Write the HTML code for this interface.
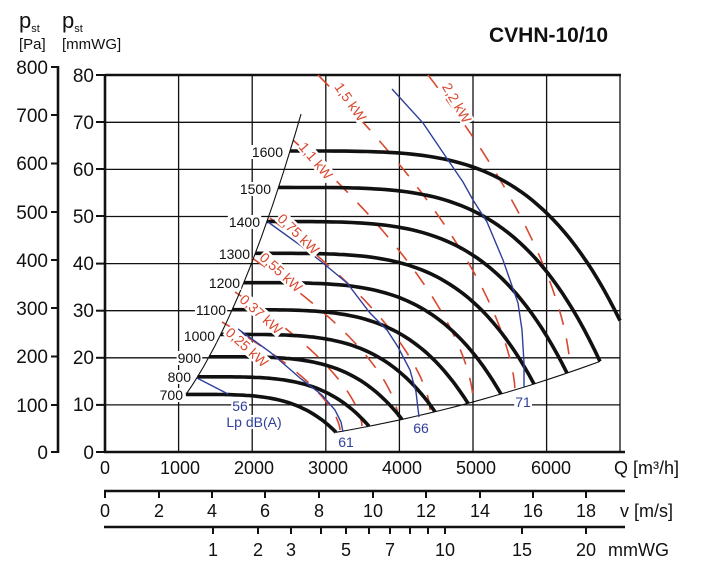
<!DOCTYPE html>
<html><head><meta charset="utf-8"><style>
html,body{margin:0;padding:0;background:#fff;}
svg{display:block;font-family:"Liberation Sans",sans-serif;}
</style></head><body>
<svg id="s" width="708" height="573" viewBox="0 0 708 573" xmlns="http://www.w3.org/2000/svg">
<g id="grid" stroke="#111" stroke-width="1.3" fill="none"></g>
<g id="pw" stroke="#d8482e" stroke-width="1.6" fill="none" stroke-dasharray="16,14"></g>
<g id="cv" stroke="#111" stroke-width="3.6" fill="none" stroke-linecap="butt"></g>
<g id="bl" stroke="#2f3f9a" stroke-width="1.4" fill="none"></g>
<g id="ax"></g>
<g id="lb"></g>
</svg>
<script>
var NS="http://www.w3.org/2000/svg";
function el(p,t,a,txt){var e=document.createElementNS(NS,t);for(var k in a)e.setAttribute(k,a[k]);if(txt!==undefined)e.textContent=txt;document.getElementById(p).appendChild(e);return e;}
function pl(p,pts,a){a=a||{};a.d="M"+pts.map(function(q){return q[0].toFixed(1)+","+q[1].toFixed(1)}).join(" L");return el(p,"path",a);}
for(var i=1;i<7;i++){var x=105+73.6*i;el("grid","line",{x1:x,y1:75,x2:x,y2:452});}
el("grid","line",{x1:620,y1:75,x2:620,y2:452});
for(var j=1;j<8;j++){var y=452-47.1*j;el("grid","line",{x1:105,y1:y,x2:620,y2:y});}
el("grid","line",{x1:105,y1:75,x2:621,y2:75,"stroke-width":2.6});
function pwl(x0,y0,x1,y1){var pts=[];for(var k=0;k<=40;k++){var t=k/40;var tx=1-Math.pow(1-t,1.6);pts.push([x0+(x1-x0)*tx,y0+(y1-y0)*t]);}pl("pw",pts);}
pwl(222,322,340,430);pwl(235,292,362,426);pwl(252,258,398,417);pwl(270,218,430,410);
pwl(293,140,473,399);pwl(318,75,515,391);pwl(428,75,570,368);
var c=1.43e-8;
[700,800,900,1000,1100,1200,1300,1400,1500,1600].forEach(function(n){
 var s=n/1600,pts=[];var xe=(n==1600)?515:528;
 for(var k=0;k<=60;k++){var Xp=185+(xe-185)*k/60;var d=Xp-185;var Y=s*s*(301-c*Math.pow(d,4));pts.push([105+Xp*s,452-Y]);}
 pl("cv",pts);
});
var bp=[];for(var k=0;k<=20;k++){var s=0.4375+(0.9375-0.4375)*k/20;var Y=s*s*(301-c*Math.pow(343,4));bp.push([105+528*s,452-Y]);}
pl("cv",bp,{"stroke-width":1.1});
var lp=[];for(var k=0;k<=20;k++){var X=81+(196-81)*k/20;lp.push([105+X,452-301*Math.pow(X/185,2)]);}
pl("cv",lp,{"stroke-width":1.1});
pl("bl",[[197,378],[228,394]]);
pl("bl",[[238,329],[270,352],[300,378],[322,395],[335,410],[341,422],[343,432]]);
pl("bl",[[268,222],[300,245],[323,263],[347,283],[370,313],[387,330],[398,347],[410,370],[416,392],[419,417]]);
pl("bl",[[392,89],[423,123],[448,160],[463,182],[473,200],[487,222],[503,260],[518,303],[522,330],[524,363],[524,387]]);
function wl(x,y,t,size,anchor,col,rot){var g=el("lb","g",{transform:"translate("+x+","+y+")"+(rot?" rotate("+rot+")":"")});
 var tx=document.createElementNS(NS,"text");tx.setAttribute("font-size",size);tx.setAttribute("text-anchor",anchor||"start");tx.setAttribute("fill",col||"#111");tx.setAttribute("dominant-baseline","central");tx.textContent=t;
 var r=document.createElementNS(NS,"rect");g.appendChild(r);g.appendChild(tx);
 var b=tx.getBBox();r.setAttribute("x",b.x-1);r.setAttribute("y",b.y+1);r.setAttribute("width",b.width+2);r.setAttribute("height",b.height-2);r.setAttribute("fill","#fff");}
[[700,183,395],[800,191,377],[900,201,358],[1000,215,336],[1100,226,310],[1200,240,283],[1300,250,254],[1400,260,222],[1500,271,189],[1600,283,152]].forEach(function(a){wl(a[1],a[2],""+a[0],14,"end");});
var R="#d8482e";
wl(228,330,"0,25 kW",14,"start",R,42);wl(242,297,"0,37 kW",14,"start",R,42);
wl(262,255,"0,55 kW",14,"start",R,42);wl(280,216,"0,75 kW",14,"start",R,44);
wl(302,144,"1,1 kW",14,"start",R,50);wl(338,84,"1,5 kW",14,"start",R,55);wl(446,84,"2,2 kW",14,"start",R,60);
var B="#2f3f9a";
wl(240,406,"56",14,"middle",B);wl(346,442,"61",14,"middle",B);wl(421,428,"66",14,"middle",B);wl(523,402,"71",14,"middle",B);
wl(254,422,"Lp dB(A)",14,"middle",B);
</script>
<svg width="708" height="573" viewBox="0 0 708 573" style="position:absolute;left:0;top:0;font-family:'Liberation Sans',sans-serif" fill="#111">
<g stroke="#111" stroke-width="2.6" fill="none">
<line x1="58" y1="66" x2="58" y2="453"/>
<line x1="105" y1="74" x2="105" y2="453"/>
<line x1="104" y1="452" x2="625" y2="452"/>
<line x1="104" y1="491" x2="625" y2="491"/>
<line x1="104" y1="527" x2="625" y2="527"/>
</g>
<g stroke="#111" stroke-width="2">
<line x1="51" y1="67" x2="58" y2="67"/><line x1="51" y1="115" x2="58" y2="115"/><line x1="51" y1="163.5" x2="58" y2="163.5"/><line x1="51" y1="212" x2="58" y2="212"/><line x1="51" y1="260" x2="58" y2="260"/><line x1="51" y1="308" x2="58" y2="308"/><line x1="51" y1="356.5" x2="58" y2="356.5"/><line x1="51" y1="405" x2="58" y2="405"/><line x1="51" y1="452" x2="58" y2="452"/>
<line x1="96" y1="75" x2="105" y2="75"/><line x1="96" y1="122" x2="105" y2="122"/><line x1="96" y1="169" x2="105" y2="169"/><line x1="96" y1="216" x2="105" y2="216"/><line x1="96" y1="263.6" x2="105" y2="263.6"/><line x1="96" y1="310.7" x2="105" y2="310.7"/><line x1="96" y1="357.8" x2="105" y2="357.8"/><line x1="96" y1="404.9" x2="105" y2="404.9"/><line x1="96" y1="452" x2="105" y2="452"/>
<line x1="105" y1="491" x2="105" y2="498"/><line x1="159" y1="491" x2="159" y2="498"/><line x1="212" y1="491" x2="212" y2="498"/><line x1="265" y1="491" x2="265" y2="498"/><line x1="319" y1="491" x2="319" y2="498"/><line x1="373" y1="491" x2="373" y2="498"/><line x1="426" y1="491" x2="426" y2="498"/><line x1="480" y1="491" x2="480" y2="498"/><line x1="533" y1="491" x2="533" y2="498"/><line x1="586" y1="491" x2="586" y2="498"/>
<line x1="213" y1="527" x2="213" y2="534"/><line x1="258" y1="527" x2="258" y2="534"/><line x1="291" y1="527" x2="291" y2="534"/><line x1="321" y1="527" x2="321" y2="534"/><line x1="346" y1="527" x2="346" y2="534"/><line x1="369" y1="527" x2="369" y2="534"/><line x1="390" y1="527" x2="390" y2="534"/><line x1="410" y1="527" x2="410" y2="534"/><line x1="428" y1="527" x2="428" y2="534"/><line x1="445" y1="527" x2="445" y2="534"/><line x1="522" y1="527" x2="522" y2="534"/><line x1="586" y1="527" x2="586" y2="534"/>
</g>
<text x="489" y="42" font-size="21" font-weight="bold">CVHN-10/10</text>
<text x="19" y="28" font-size="22">p<tspan font-size="11" dy="4">st</tspan></text>
<text x="19" y="49" font-size="15">[Pa]</text>
<text x="62" y="28" font-size="22">p<tspan font-size="11" dy="4">st</tspan></text>
<text x="62" y="49" font-size="15">[mmWG]</text>
<g font-size="19" text-anchor="end">
<text x="48" y="74">800</text><text x="48" y="122">700</text><text x="48" y="170">600</text><text x="48" y="219">500</text><text x="48" y="267">400</text><text x="48" y="315">300</text><text x="48" y="363">200</text><text x="48" y="412">100</text><text x="48" y="459">0</text>
<text x="94" y="82">80</text><text x="94" y="129">70</text><text x="94" y="176">60</text><text x="94" y="223">50</text><text x="94" y="270">40</text><text x="94" y="317">30</text><text x="94" y="364">20</text><text x="94" y="411">10</text><text x="94" y="459">0</text>
</g>
<g font-size="18" text-anchor="middle">
<text x="105" y="474">0</text><text x="180" y="474">1000</text><text x="254" y="474">2000</text><text x="328" y="474">3000</text><text x="402" y="474">4000</text><text x="476" y="474">5000</text><text x="551" y="474">6000</text>
<text x="105" y="517">0</text><text x="159" y="517">2</text><text x="212" y="517">4</text><text x="265" y="517">6</text><text x="319" y="517">8</text><text x="373" y="517">10</text><text x="426" y="517">12</text><text x="480" y="517">14</text><text x="533" y="517">16</text><text x="586" y="517">18</text>
<text x="213" y="556">1</text><text x="258" y="556">2</text><text x="291" y="556">3</text><text x="346" y="556">5</text><text x="390" y="556">7</text><text x="445" y="556">10</text><text x="522" y="556">15</text><text x="586" y="556">20</text>
</g>
<g font-size="18">
<text x="614" y="474">Q [m³/h]</text>
<text x="620" y="517">v [m/s]</text>
<text x="608" y="556">mmWG</text>
</g>
</svg>
</body></html>
